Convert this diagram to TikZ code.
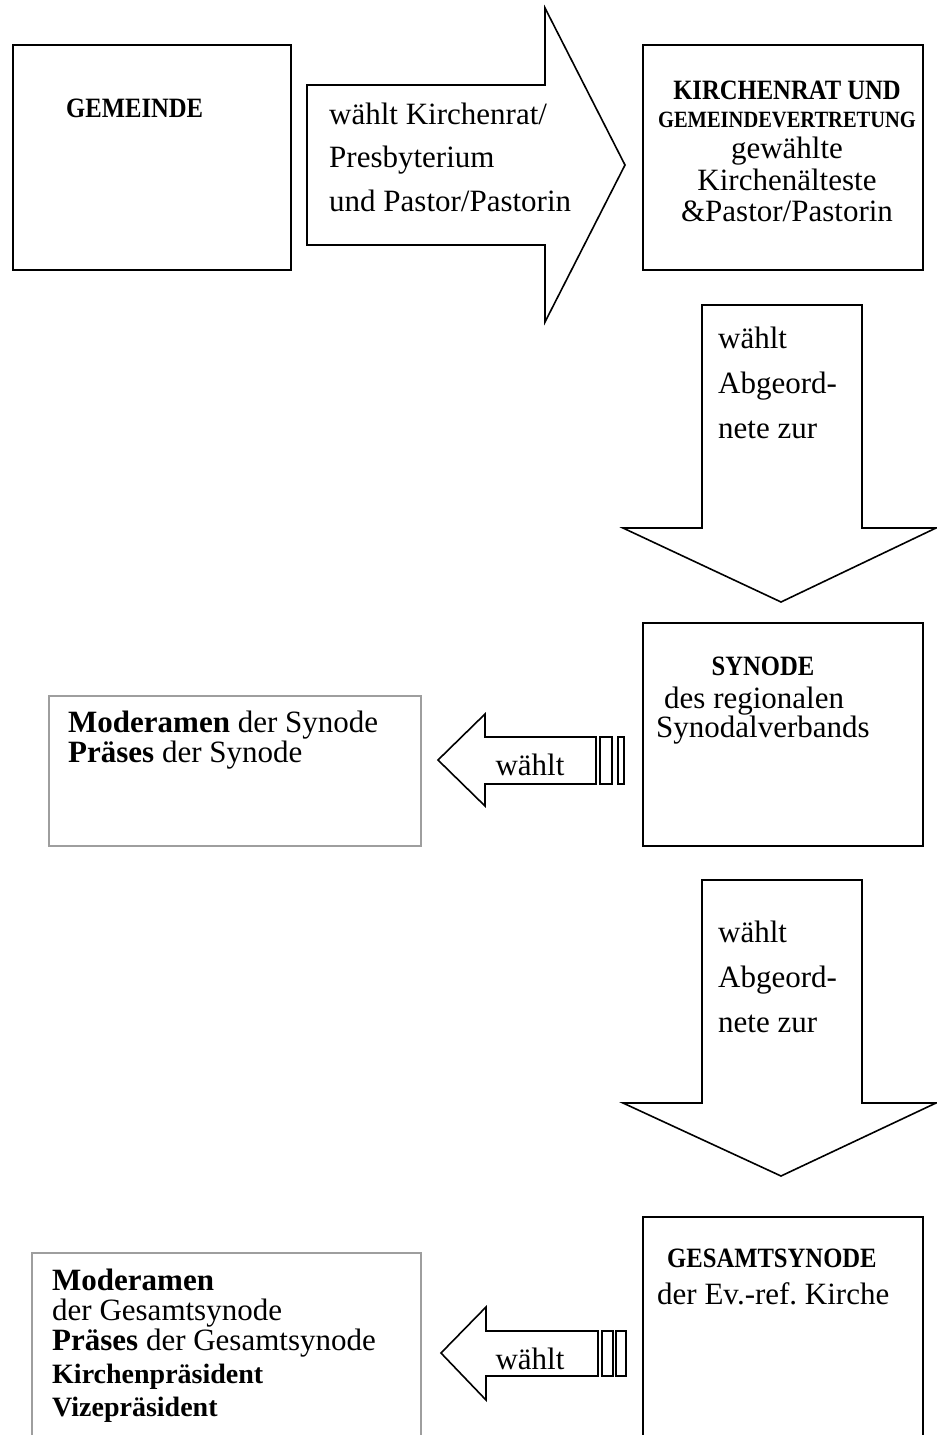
\documentclass[tikz,border=0pt]{standalone}
\usepackage{fontspec}
\setmainfont{Liberation Serif}
\newfontfamily\hfont{Liberation Serif}[FakeStretch=0.88]
\newcommand{\Lines}[1]{\vtop{\halign{##\hfil\cr#1\crcr}}}
\newcommand{\CLines}[1]{\vtop{\halign{\hfil##\hfil\cr#1\crcr}}}
\frenchspacing
\tikzset{
  box/.style={draw=black, line width=2pt, inner sep=0pt, anchor=north west},
  graybox/.style={draw=black!38, line width=2pt, inner sep=0pt, anchor=north west},
  blockarrow/.style={draw=black, line width=1.6pt, line join=miter},
  txt/.style={inner sep=0pt, font=\fontsize{31}{31}\selectfont\frenchspacing},
  head/.style={inner sep=0pt, font=\fontsize{28}{28}\hfont\bfseries},
}
\begin{document}
\begin{tikzpicture}[x=1pt, y=-1pt]
\useasboundingbox (0,0) rectangle (937,1435);
\fill[white] (0,0) rectangle (937,1435);
\clip (0,0) rectangle (937,1435);

% boxes
\node[box, minimum width=278pt, minimum height=225pt] (gem) at (12,44) {};
\node[box, minimum width=280pt, minimum height=225pt] (kr) at (642,44) {};
\node[box, minimum width=280pt, minimum height=223pt] (syn) at (642,622) {};
\node[graybox, minimum width=372pt, minimum height=150pt] (mod1) at (48,695) {};
\node[box, minimum width=280pt, minimum height=300pt] (ges) at (642,1216) {};
\node[graybox, minimum width=389pt, minimum height=300pt] (mod2) at (31,1252) {};

% block arrows
\draw[blockarrow] (307,85) -- (545,85) -- (545,8) -- (625,165) -- (545,322) -- (545,245) -- (307,245) -- cycle;
\draw[blockarrow] (702,305) -- (862,305) -- (862,528) -- (936,528) -- (781,602) -- (623,528) -- (702,528) -- cycle;
\draw[blockarrow] (702,880) -- (862,880) -- (862,1103) -- (936,1103) -- (781,1176) -- (623,1103) -- (702,1103) -- cycle;
\draw[blockarrow] (438,760) -- (485,714) -- (485,737) -- (596,737) -- (596,784) -- (485,784) -- (485,806) -- cycle;
\draw[blockarrow] (600,737) rectangle (612,784);
\draw[blockarrow] (618,737) rectangle (624,784);
\draw[blockarrow] (441,1353) -- (486,1307) -- (486,1331) -- (598,1331) -- (598,1376) -- (486,1376) -- (486,1400) -- cycle;
\draw[blockarrow] (602,1331) rectangle (613,1376);
\draw[blockarrow] (616,1331) rectangle (626,1376);

% texts
\node[head, anchor=base west] (tgem) at (66,117) {GEMEINDE};
\node[txt, anchor=base west, font=\fontsize{31}{43.5}\selectfont] (tarr) at (329,124)
  {\Lines{wählt Kirchenrat/\cr Presbyterium\cr und Pastor/Pastorin}};
\node[txt, anchor=base, font=\fontsize{31}{31.5}\selectfont] (tkr) at (787,99)
  {\CLines{{\fontsize{28}{28}\hfont\bfseries KIRCHENRAT UND}\cr
   \noalign{\vskip-3.5pt}
   {\fontsize{23.3}{23.3}\hfont\bfseries GEMEINDEVERTRETUNG}\cr
   gewählte\cr Kirchenälteste\cr \&Pastor/Pastorin}};
\node[txt, anchor=base west, font=\fontsize{31}{45}\selectfont] (tdown1) at (718,348)
  {\Lines{wählt\cr Abgeord-\cr nete zur}};
\node[txt, anchor=base west, font=\fontsize{31}{45}\selectfont] (tdown2) at (718,942)
  {\Lines{wählt\cr Abgeord-\cr nete zur}};
\node[head, anchor=base] (tsyn) at (763,675) {SYNODE};
\node[txt, anchor=base west, font=\fontsize{31}{29}\selectfont] (tsyn2) at (656,708)
  {\Lines{\hskip8pt des regionalen\cr Synodalverbands}};
\node[txt, anchor=base west, font=\fontsize{31}{30}\selectfont] (tmod1) at (68,732)
  {\Lines{\textbf{Moderamen} der Synode\cr \textbf{Präses} der Synode}};
\node[txt, anchor=base] (tw1) at (530,775) {wählt};
\node[txt, anchor=base] (tw2) at (530,1369) {wählt};
\node[head, anchor=base west] (tges) at (667,1267) {GESAMTSYNODE};
\node[txt, anchor=base west] (tges2) at (657,1304) {der Ev.-ref. Kirche};
\node[txt, anchor=base west, font=\fontsize{31}{30}\selectfont] (tmod2) at (52,1290)
  {\Lines{\textbf{Moderamen}\cr der Gesamtsynode\cr \textbf{Präses} der Gesamtsynode\cr
   \noalign{\vskip3pt}
   {\fontsize{28}{28}\selectfont\bfseries Kirchenpräsident}\cr
   \noalign{\vskip3pt}
   {\fontsize{28}{28}\selectfont\bfseries Vizepräsident}}};
\end{tikzpicture}
\end{document}
